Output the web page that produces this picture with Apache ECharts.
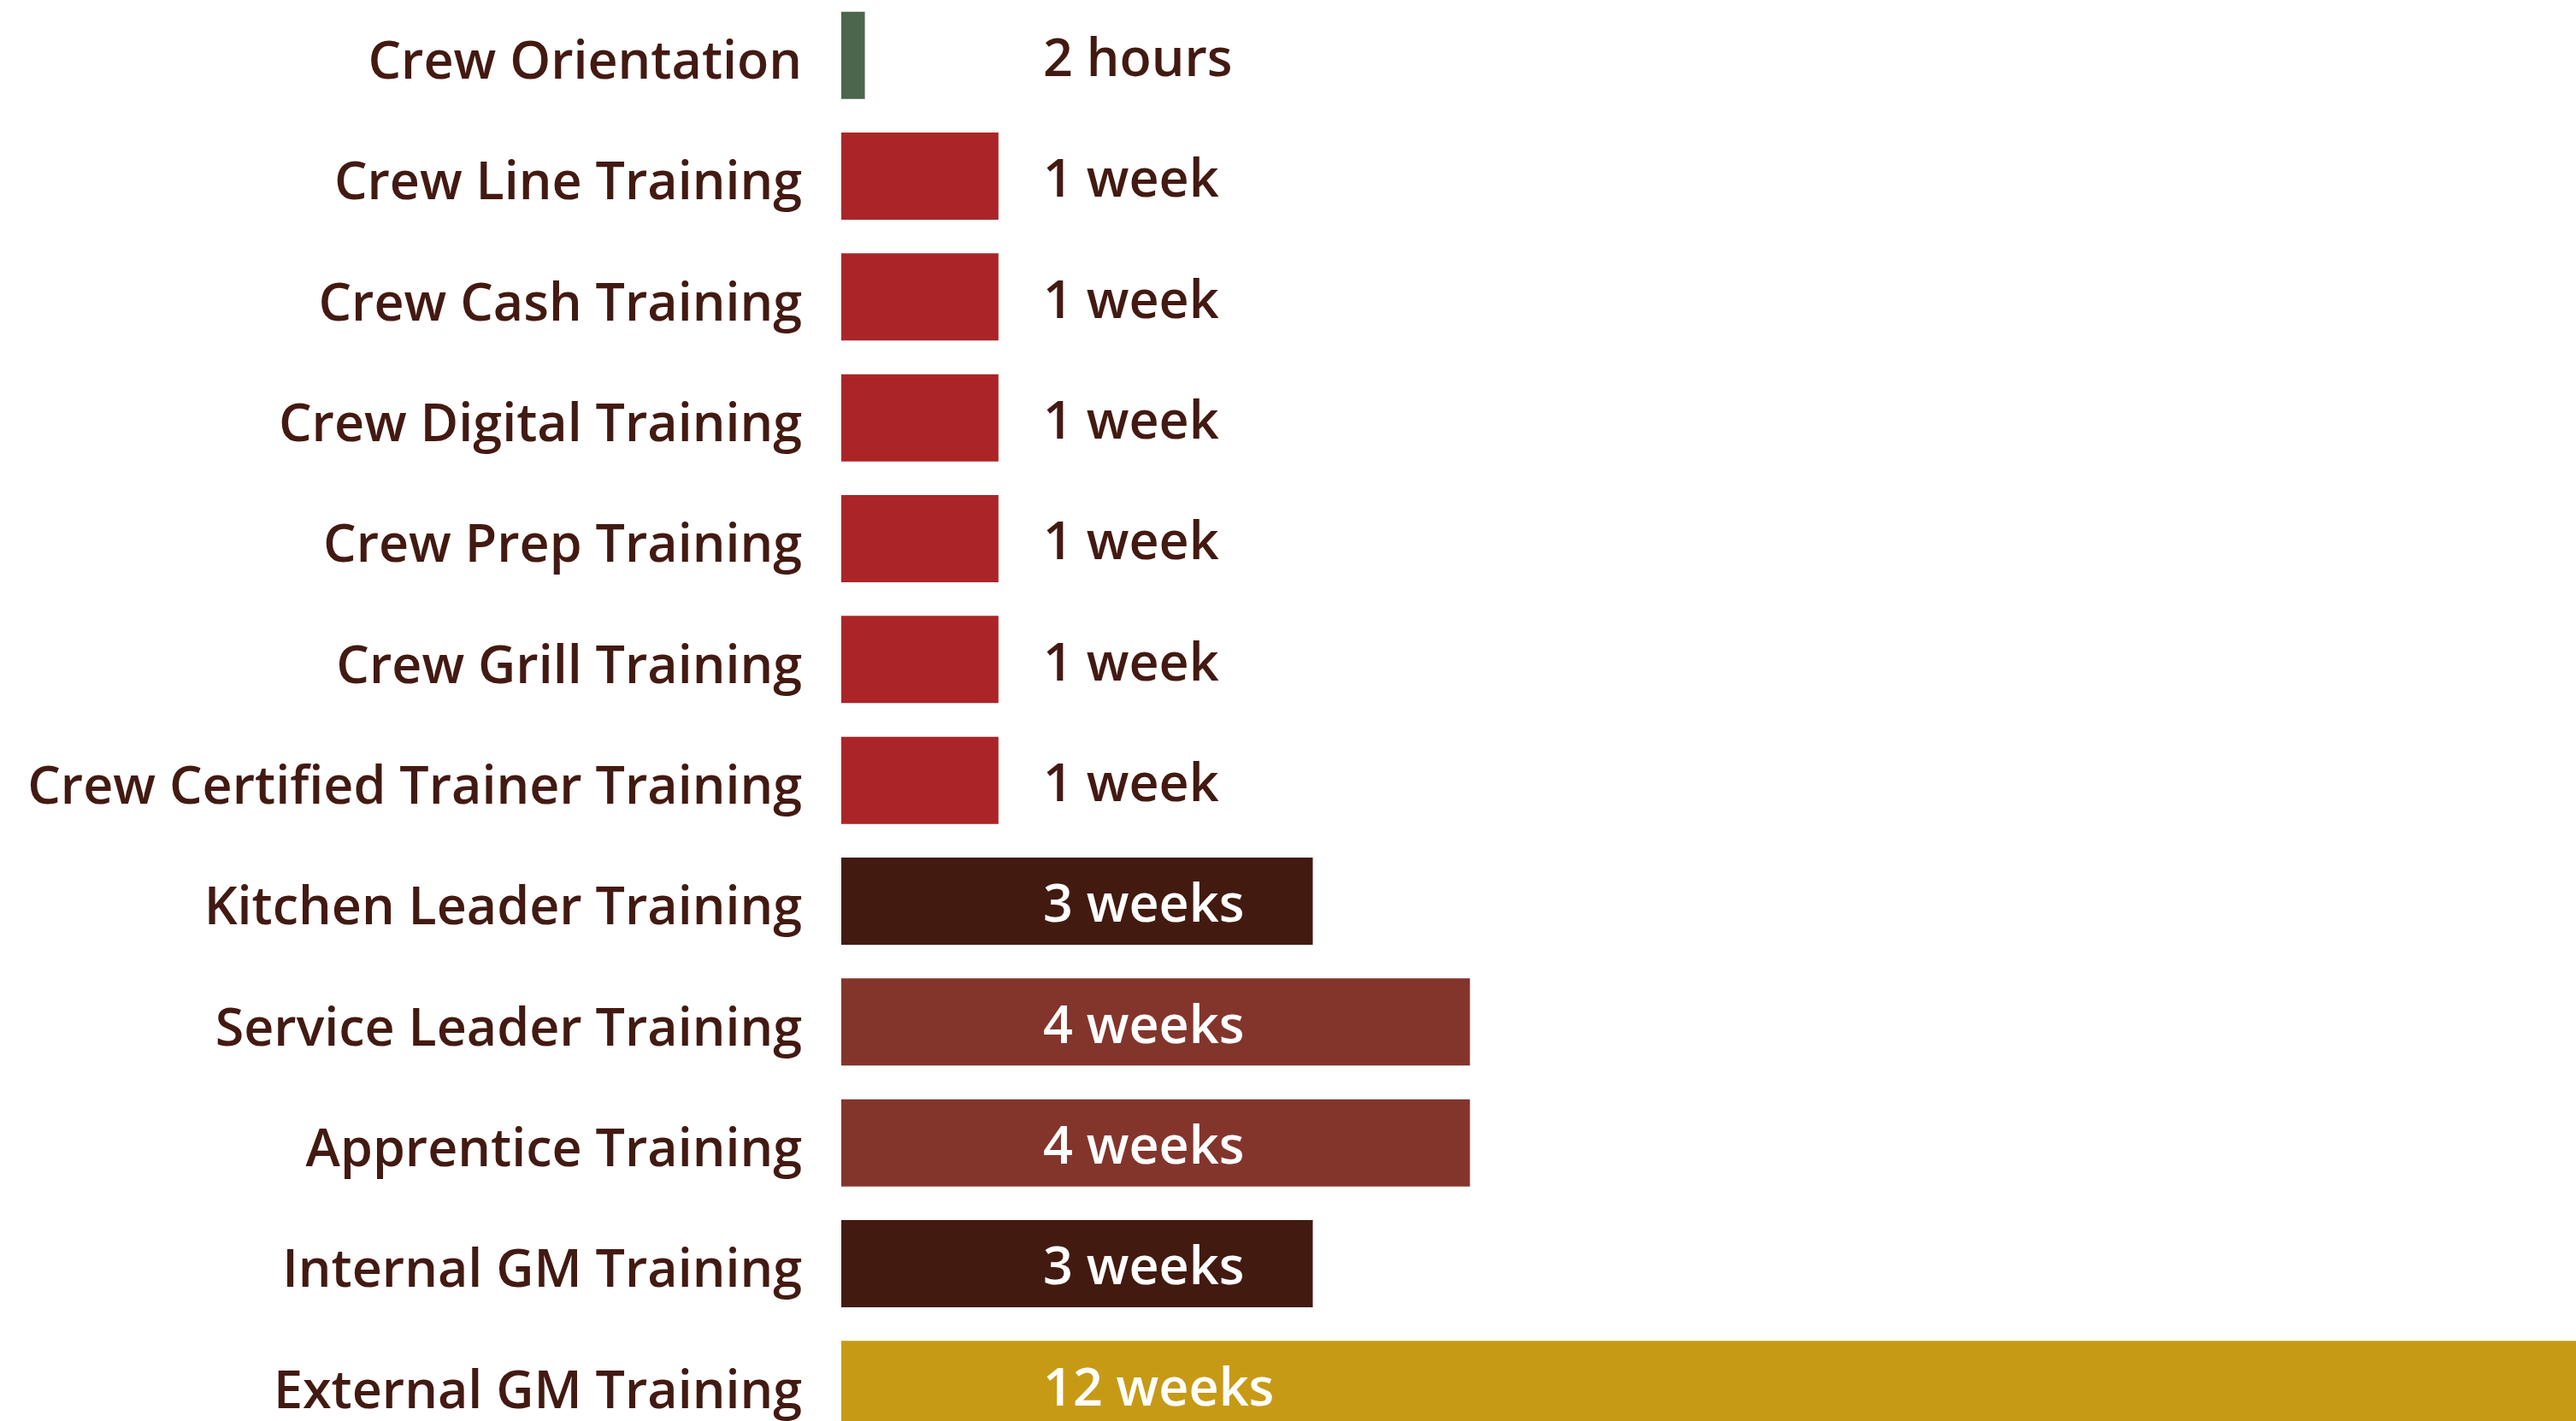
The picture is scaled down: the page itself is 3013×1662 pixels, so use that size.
<!DOCTYPE html>
<html>
<head>
<meta charset="utf-8">
<script src="https://cdn.jsdelivr.net/npm/echarts@6/dist/echarts.min.js"></script>
<style>
html,body{margin:0;padding:0;background:#fff;overflow:hidden;width:3013px;height:1662px;}
#chart{position:absolute;left:0;top:-6px;width:3190px;height:1696px;}
</style>
</head>
<body>
<div id="chart"></div>
<script>
// Data
const categories = [
  'Crew Orientation',
  'Crew Line Training',
  'Crew Cash Training',
  'Crew Digital Training',
  'Crew Prep Training',
  'Crew Grill Training',
  'Crew Certified Trainer Training',
  'Kitchen Leader Training',
  'Service Leader Training',
  'Apprentice Training',
  'Internal GM Training',
  'External GM Training'
];
// duration in weeks (2 hours drawn as a thin bar)
const weeks = [0.15, 1, 1, 1, 1, 1, 1, 3, 4, 4, 3, 12];
const durationLabels = ['2 hours', '1 week', '1 week', '1 week', '1 week', '1 week', '1 week',
  '3 weeks', '4 weeks', '4 weeks', '3 weeks', '12 weeks'];

// Styles
const barColors = ['#4b664c', '#ab2428', '#ab2428', '#ab2428', '#ab2428', '#ab2428', '#ab2428',
  '#431a10', '#83352c', '#83352c', '#431a10', '#c79a16'];
const textColor = '#431a12';
const FONT = '"Open Sans"';

const chart = echarts.init(document.getElementById('chart'), null, {renderer: 'canvas'});

const seriesData = weeks.map((v, i) => ({
  value: v,
  itemStyle: {color: barColors[i]},
  label: {color: v > 1.5 ? '#ffffff' : textColor}
}));

chart.setOption({
  animation: false,
  backgroundColor: '#ffffff',
  grid: {left: 984, right: 0, top: 0, bottom: 0, containLabel: false},
  xAxis: {
    type: 'value', min: 0, max: 12, show: false
  },
  yAxis: {
    type: 'category',
    data: categories,
    inverse: true,
    axisLine: {show: false},
    axisTick: {show: false},
    splitLine: {show: false},
    axisLabel: {
      margin: 46,
      color: textColor,
      fontFamily: FONT,
      fontWeight: 600,
      fontSize: 61,
      verticalAlign: 'middle',
      formatter: v => '{s|}\n{a|' + v + '}',
      rich: {
        s: {height: 20, lineHeight: 20, fontSize: 2},
        a: {
          color: textColor,
          fontFamily: FONT,
          fontWeight: 600,
          fontSize: 61,
          lineHeight: 80
        }
      }
    }
  },
  series: [{
    type: 'bar',
    data: seriesData,
    barWidth: 102,
    label: {
      show: true,
      position: [236, '50%'],
      align: 'left',
      verticalAlign: 'middle',
      offset: [0, 7],
      fontFamily: FONT,
      fontWeight: 600,
      fontSize: 61,
      formatter: p => durationLabels[p.dataIndex]
    }
  }]
});
</script>
</body>
</html>
